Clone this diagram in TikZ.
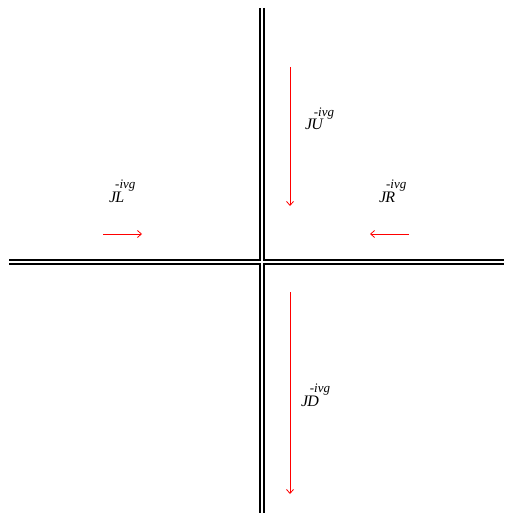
\documentclass[tikz,border=0pt]{standalone}
\usepackage{fontspec}
\setmainfont{Liberation Serif}
\usetikzlibrary{arrows.meta}
\newcommand{\ivglbl}[1]{J\kern-1pt#1\kern-9pt\raisebox{13.5pt}{\fontsize{13}{13}\selectfont\itshape -ivg}}
\begin{document}
\begin{tikzpicture}[x=1pt,y=-1pt,
  axis/.style={draw=black,double=white,double distance=2pt,line width=1.8pt},
  flow/.style={draw=red,line width=0.8pt,-{Straight Barb[length=4pt,width=7pt]}},
  lbl/.style={font=\fontsize{16}{16}\selectfont\itshape,inner sep=0pt,anchor=base west}]
\useasboundingbox (0,0) rectangle (504,513);
\coordinate (vt) at (262,8);
\coordinate (vb) at (262,513);
\coordinate (hl) at (9,262);
\coordinate (hr) at (504,262);
\draw[axis] (vt) -- (vb) (hl) -- (hr);
\coordinate (u1) at (290,67); \coordinate (u2) at (290,206);
\coordinate (l1) at (103,234); \coordinate (l2) at (142,234);
\coordinate (r1) at (409,234); \coordinate (r2) at (370,234);
\coordinate (d1) at (290,292); \coordinate (d2) at (290,494);
\draw[flow] (u1) -- (u2);
\draw[flow] (l1) -- (l2);
\draw[flow] (r1) -- (r2);
\draw[flow] (d1) -- (d2);
\node[lbl] (JU) at (305,130) {\ivglbl{U}};
\node[lbl] (JL) at (109,202) {\ivglbl{L}};
\node[lbl] (JR) at (379,202) {\ivglbl{R}};
\node[lbl] (JD) at (301,406) {\ivglbl{D}};
\end{tikzpicture}
\end{document}
